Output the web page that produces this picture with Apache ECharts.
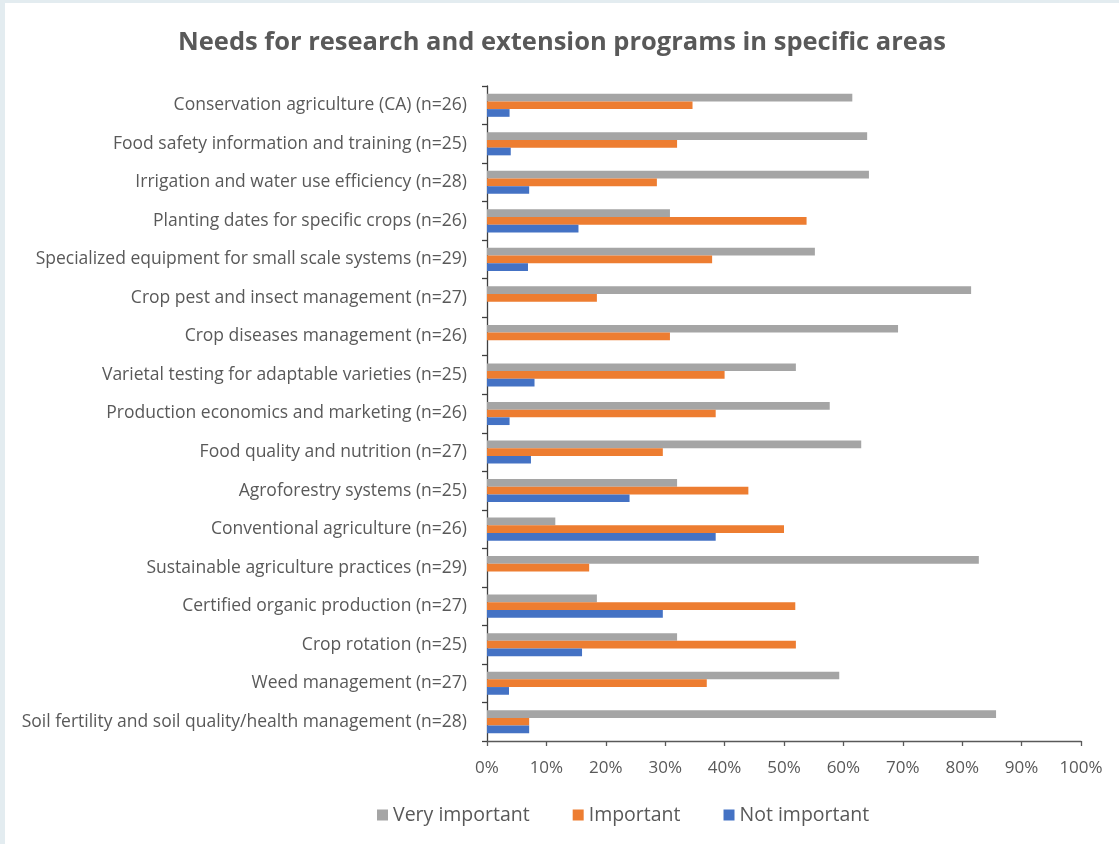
<!DOCTYPE html>
<html>
<head>
<meta charset="utf-8">
<title>Needs for research and extension programs in specific areas</title>
<script src="https://cdn.jsdelivr.net/npm/echarts@6/dist/echarts.min.js"></script>
<style>
  html, body { margin: 0; padding: 0; width: 1119px; height: 844px; background: #e3ecf0; overflow: hidden; }
  #chart { position: absolute; left: 5px; top: 3px; width: 1114px; height: 841px; background: #ffffff; }
</style>
</head>
<body>
<div id="chart"></div>
<script>
// Survey topics, listed top to bottom
const categories = [
  'Conservation agriculture (CA) (n=26)',
  'Food safety information and training (n=25)',
  'Irrigation and water use efficiency (n=28)',
  'Planting dates for specific crops (n=26)',
  'Specialized equipment for small scale systems (n=29)',
  'Crop pest and insect management (n=27)',
  'Crop diseases management (n=26)',
  'Varietal testing for adaptable varieties (n=25)',
  'Production economics and marketing (n=26)',
  'Food quality and nutrition (n=27)',
  'Agroforestry systems (n=25)',
  'Conventional agriculture (n=26)',
  'Sustainable agriculture practices (n=29)',
  'Certified organic production (n=27)',
  'Crop rotation (n=25)',
  'Weed management (n=27)',
  'Soil fertility and soil quality/health management (n=28)'
];

// Share of respondents (%) per rating
const veryImportant = [61.5, 64.0, 64.3, 30.8, 55.2, 81.5, 69.2, 52.0, 57.7, 63.0, 32.0, 11.5, 82.8, 18.5, 32.0, 59.3, 85.7];
const important     = [34.6, 32.0, 28.6, 53.8, 37.9, 18.5, 30.8, 40.0, 38.5, 29.6, 44.0, 50.0, 17.2, 51.9, 52.0, 37.0, 7.1];
const notImportant  = [3.8, 4.0, 7.1, 15.4, 6.9, 0, 0, 8.0, 3.8, 7.4, 24.0, 38.5, 0, 29.6, 16.0, 3.7, 7.1];

const seriesNames = ['Very important', 'Important', 'Not important'];
const xTicks = { min: 0, max: 100, step: 10 };

const textColor = '#595959';
const font = '"Open Sans", Lato, sans-serif';

const chart = echarts.init(document.getElementById('chart'), null, { renderer: 'canvas' });

function barSeries(name, data, color) {
  return {
    name: name,
    type: 'bar',
    data: data,
    barWidth: 7.7,
    barGap: '0%',
    itemStyle: { color: color },
    emphasis: { disabled: true },
    animation: false
  };
}

chart.setOption({
  animation: false,
  title: {
    text: 'Needs for research and extension programs in specific areas',
    left: 'center',
    top: 22,
    textStyle: { fontFamily: font, fontWeight: 'bold', fontSize: 25.5, color: textColor }
  },
  legend: {
    data: seriesNames,
    left: 367,
    top: 797,
    icon: 'rect',
    itemWidth: 11,
    itemHeight: 11,
    itemGap: 43,
    selectedMode: false,
    textStyle: { fontFamily: font, fontSize: 19.5, color: textColor }
  },
  grid: { left: 482, right: 38, top: 83, bottom: 103, containLabel: false },
  xAxis: {
    type: 'value',
    min: xTicks.min,
    max: xTicks.max,
    interval: xTicks.step,
    axisLine: { show: true, lineStyle: { color: '#595959', width: 1.3 } },
    axisTick: { show: true, length: 5, lineStyle: { color: '#595959', width: 1.3 } },
    splitLine: { show: false },
    axisLabel: {
      formatter: '{value}%',
      margin: 19,
      fontFamily: font,
      fontSize: 17,
      color: textColor
    }
  },
  yAxis: {
    type: 'category',
    data: categories,
    inverse: true,
    axisLine: { show: true, lineStyle: { color: '#404040', width: 1.3 } },
    axisTick: { show: true, length: 5, alignWithLabel: false, lineStyle: { color: '#404040', width: 1.3 } },
    axisLabel: {
      margin: 20,
      fontFamily: font,
      fontSize: 17.5,
      color: textColor
    }
  },
  series: [
    barSeries(seriesNames[0], veryImportant, '#a5a5a5'),
    barSeries(seriesNames[1], important, '#ed7d31'),
    barSeries(seriesNames[2], notImportant, '#4472c4')
  ]
});
</script>
</body>
</html>
